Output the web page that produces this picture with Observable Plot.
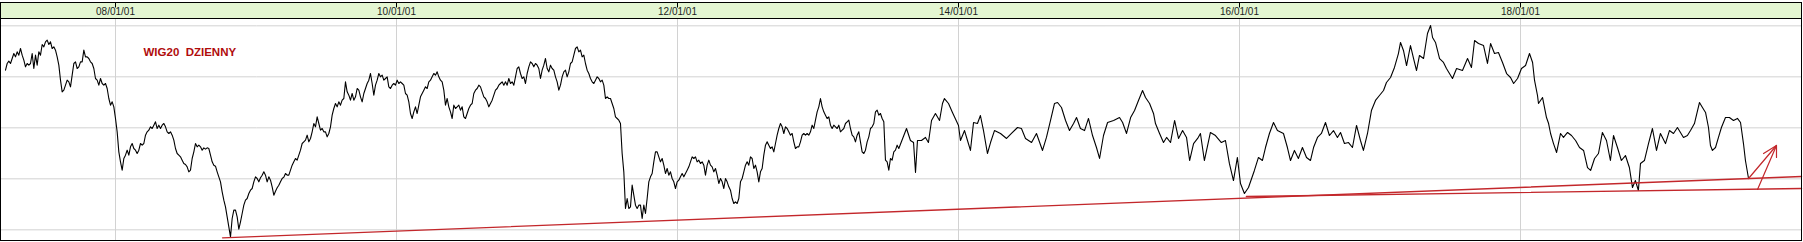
<!DOCTYPE html>
<html><head><meta charset="utf-8">
<script src="https://cdn.jsdelivr.net/npm/d3@7"></script>
<script src="https://cdn.jsdelivr.net/npm/@observablehq/plot@0.6"></script>
<style>body{margin:0;background:#fff}</style>
</head><body><div id="chart"></div>
<script>
const title = "WIG20\u00a0 DZIENNY";
const tickYears = [2008, 2010, 2012, 2014, 2016, 2018];
const tickLabels = ["08/01/01", "10/01/01", "12/01/01", "14/01/01", "16/01/01", "18/01/01"];
const gridValues = [2956, 2650, 2344, 2038, 1732];

// regular samples (about every 4.3 days)
const firstSampleYear = 2007.2171;
const sampleStepYears = 0.011862;
const wig20 = [
2690,2730,2744,2730,2760,2790,2770,2800,2780,2820,
2780,2750,2710,2730,2720,2730,2790,2700,2780,2720,
2800,2780,2844,2830,2860,2870,2844,2860,2820,2830,
2810,2770,2720,2630,2560,2570,2600,2630,2620,2590,
2660,2730,2740,2700,2710,2740,2740,2810,2770,2770,
2760,2740,2730,2700,2640,2630,2600,2640,2610,2600,
2610,2580,2520,2480,2500,2470,2400,2320,2200,2140,
2090,2160,2180,2210,2180,2230,2250,2220,2210,2190,
2210,2250,2240,2250,2300,2320,2330,2350,2340,2360,
2380,2340,2360,2340,2360,2370,2350,2320,2310,2320,
2300,2270,2220,2190,2180,2170,2150,2130,2124,2110,
2080,2090,2160,2200,2250,2230,2240,2230,2210,2224,
2216,2224,2220,2180,2140,2120,2114,2080,2050,2020,
1960,1910,1870,1810,1750,1690,1800,1850,1850,1810,
1736,1780,1830,1880,1910,1920,1950,1970,1980,2020,
2050,2040,2020,2044,2060,2080,2060,2020,2050,2030,
1990,1940,1964,1984,2000,2020,2040,2048,2070,2060,
2060,2090,2120,2140,2160,2150,2180,
2210,2250,2260,2270,2300,2260,2280,2320,2370,2350,
2410,2370,2330,2340,2320,2320,2290,2310,2350,2420,
2460,2490,2470,2500,2480,2510,2520,2620,2560,2540,
2510,2550,2510,2530,2580,2570,2530,2500,2550,2580,
2610,2630,2670,2610,2540,2600,2630,2670,2650,2660,
2630,2640,2650,2590,2580,2600,2610,2600,2630,2610,
2620,2610,2600,2550,2540,2500,2430,2400,2440,2470,
2430,2480,2530,2550,2570,2590,2580,2620,2630,2650,
2670,2660,2680,2650,2630,2620,2570,2480,2520,2470,
2440,2400,2480,2460,2470,2480,2450,2470,2410,2400,
2430,2460,2480,2490,2550,2570,2580,2600,2590,2560,
2530,2520,2500,2470,2490,2510,2540,2570,2580,2600,
2610,2620,2600,2620,2600,2640,2610,2620,2600,2650,
2700,2710,2670,2640,2650,2610,2670,2710,2740,2730,
2710,2730,2720,2700,2640,2690,2720,2760,2700,2680,
2720,2700,2690,2650,2620,2570,2600,2650,2680,2690,
2650,2680,2730,2740,2780,2820,2830,2800,2810,2770,
2780,2730,2690,2670,2640,2620,2610,2630,2650,2640,
2620,2630,2600,2520,2530,2520,2520,2490,2460,2410,
2400,2390,2370,2190,2080,1860,1920,1860,1870,2000,
1940,1880,1860,1880,1880,1800,1880,1830,1920,2020,
2050,2070,2140,2200,2200,2170,2140,2160,2120,2070,
2100,2060,2080,2040,2020,1980,2020,2030,2050,2070,
2050,2070,2090,2110,2140,2170,2160,2170,2140,2150,
2130,2140,2120,2060,2120,2150,2120,2110,2080,2100,
2060,2010,2040,2020,1980,2040,2020,1990,1970,1920,
1890,1900,1890,1920,2020,2040,2080,2120,2140,2120,
2170,2160,2100,2120,2080,2020,2080,2100,2180,2240,
2260,2240,2220,2230,2200,2250,2300,2340,2370,2350,
2310,2350,2340,2320,2300,2310,2260,2220,2230,2230,
2260,2300,2310,2300,2310,2300,2320,2360,2340,2390,
2440,2470,2520,2470,2440,2420,2400,2410,2360,2340,
2360,2350,2340,2360,2320,2330,2340,2370,2380,2390,
2340,2300,2290,2260,2300,2320,2260,2200,2190,2210,
2260,2290,2340,2350,2370,2440,2450,2420,2430,2400,
2380,2150,2140,2090,2160,2150,2200,2210,2240,2220
];

// later part, still coarse: [decimal year, level]
const wig20Late = [
[2013.630,1992],[2013.658,1898],[2013.680,1882],[2013.694,1647],[2013.708,1898],[2013.736,1898],[2013.765,1922],[2013.786,1882],
[2013.808,2055],[2013.836,2110],[2013.865,2055],[2013.886,2188],[2013.900,2227],[2013.929,2188],[2013.957,2118],[2014.000,2016],
[2014.014,1898],[2014.043,1976],[2014.064,1898],[2014.085,1820],[2014.107,2039],[2014.135,2031],[2014.156,2094],[2014.178,1976],
[2014.206,1796],[2014.228,1882],[2014.256,1976],[2014.299,1953],[2014.342,1914],[2014.377,1953],[2014.420,2000],[2014.448,1992],
[2014.477,1914],[2014.520,1882],[2014.555,1953],[2014.598,1820],[2014.626,1922],[2014.655,2055],[2014.683,2188],[2014.705,2196],
[2014.733,2157],[2014.762,2055],[2014.790,1976],[2014.819,2031],[2014.840,2078],[2014.868,1992],[2014.897,1976],[2014.925,2071],
[2014.954,1937],[2014.982,1843],[2015.004,1757],[2015.032,1937],[2015.061,2039],[2015.104,2055],[2015.146,2078],[2015.168,2039],
[2015.196,1953],[2015.225,2078],[2015.253,2133],[2015.281,2212],[2015.310,2290],[2015.331,2235],[2015.360,2188],[2015.388,2110],
[2015.402,2031],[2015.431,1953],[2015.459,1882],[2015.481,1922],[2015.509,1882],[2015.538,2055],[2015.566,1914],[2015.595,1976],
[2015.623,1922],[2015.645,1741],[2015.673,1874],[2015.702,1914],
[2015.722,1953],[2015.750,1741],[2015.793,1961],[2015.829,1937],[2015.871,1882],[2015.900,1898],[2015.928,1718],[2015.957,1584],
[2015.985,1765],[2016.007,1561],[2016.035,1482],[2016.064,1529],[2016.106,1663],[2016.135,1765],[2016.163,1741],[2016.185,1843],
[2016.213,1953],[2016.242,2039],[2016.270,1976],[2016.313,1953],[2016.341,1843],[2016.363,1741],[2016.391,1820],[2016.419,1757],
[2016.448,1843],[2016.477,1765],[2016.505,1741],[2016.527,1843],[2016.555,1922],[2016.583,1953],[2016.612,2039],[2016.640,1937],
[2016.669,1976],[2016.697,1922],[2016.719,1961],[2016.747,1874],[2016.776,1882],[2016.804,1843],[2016.833,2016],[2016.861,1898],
[2016.882,1820],[2016.911,1953],[2016.939,2133],[2016.968,2212],[2016.996,2251],[2017.025,2290],[2017.046,2353],[2017.075,2392],
[2017.103,2471],[2017.131,2580],[2017.146,2667],[2017.167,2604],[2017.189,2486],[2017.217,2643],[2017.239,2541],[2017.260,2447],
[2017.281,2565],[2017.310,2541],[2017.338,2737],[2017.360,2800],[2017.374,2706],[2017.395,2667],[2017.424,2541],[2017.452,2510],
[2017.473,2463],[2017.516,2384],[2017.545,2463],[2017.587,2447],[2017.623,2541],[2017.651,2471],[2017.673,2682],[2017.701,2659],
[2017.737,2643],[2017.765,2502],[2017.787,2659],[2017.815,2580],[2017.843,2588],[2017.872,2510],[2017.901,2423],[2017.929,2392],
[2017.951,2345],[2017.979,2384],[2018.007,2463],[2018.036,2486],[2018.064,2580],[2018.086,2510],[2018.100,2369],[2018.121,2251],
[2018.128,2188],[2018.157,2235],[2018.185,2078],[2018.200,2031],[2018.214,1953],[2018.235,1874],[2018.257,1804],[2018.285,1953],
[2018.306,1922],[2018.335,1961],[2018.363,1937],[2018.392,1898],[2018.420,1843],[2018.449,1820],[2018.477,1686],[2018.499,1663],
[2018.527,1757],[2018.555,1796],[2018.583,1961],[2018.612,1898],[2018.640,1741],[2018.662,1937],[2018.690,1843],[2018.718,1741],
[2018.747,1780],[2018.775,1686],[2018.797,1529],[2018.818,1584],[2018.839,1506],[2018.854,1718],[2018.882,1741],[2018.911,1874],
[2018.939,1992],[2018.968,1820],[2018.996,1953],[2019.032,1874],[2019.060,1976],[2019.089,1953],[2019.117,2000],[2019.160,1922],
[2019.188,1937],[2019.210,1976],[2019.238,2031],[2019.260,2133],[2019.274,2196],[2019.295,2157],[2019.317,2118],[2019.338,2000],
[2019.352,1859],[2019.366,1820],[2019.388,1843],[2019.409,1922],[2019.430,2000],[2019.459,2078],[2019.487,2078],[2019.516,2055],
[2019.544,2071],[2019.566,2039],[2019.587,1874],[2019.601,1741],[2019.623,1600]
];

// hand-drawn support lines and arrow
const supportLong = [[2008.762, 1684], [2020.0, 2052]];
const supportShort = [[2016.049, 1932], [2020.0, 1980]];
const arrowShaftA = [[2019.623, 2040], [2019.822, 2238]];
const arrowShaftB = [[2019.687, 1974], [2019.822, 2238]];
const arrowHead = [[2019.730, 2190], [2019.822, 2238], [2019.822, 2166]];

const series = wig20.map((v, i) => [firstSampleYear + i * sampleStepYears, v])
  .concat(wig20Late.map(([t, v]) => [t, 3108 - 6 * (2996 - v) / 7.843]));

const red = "#c3272b";
const grid = "#d2d2d2";
const fx = d => d[0], fy = d => d[1];

const chart = Plot.plot({
  width: 1803, height: 242,
  marginLeft: 0, marginRight: 2, marginTop: 18, marginBottom: 2,
  x: {domain: [2007.1815, 2020.0], axis: null},
  y: {domain: [1668, 3000], axis: null},
  style: {background: "transparent", fontFamily: "'Liberation Sans', Arial, sans-serif", overflow: "visible"},
  marks: [
    Plot.gridX(tickYears, {stroke: grid, strokeOpacity: 1}),
    Plot.gridY(gridValues, {stroke: grid, strokeOpacity: 1}),
    Plot.line(series, {x: fx, y: fy, stroke: "#000", strokeWidth: 1.1}),
    Plot.line(supportLong, {x: fx, y: fy, stroke: red, strokeWidth: 1.4}),
    Plot.line(supportShort, {x: fx, y: fy, stroke: red, strokeWidth: 1.4}),
    Plot.line(arrowShaftA, {x: fx, y: fy, stroke: red, strokeWidth: 1.2}),
    Plot.line(arrowShaftB, {x: fx, y: fy, stroke: red, strokeWidth: 1.2}),
    Plot.line(arrowHead, {x: fx, y: fy, stroke: red, strokeWidth: 1.2}),
    Plot.text([title], {frameAnchor: "top-left", dx: 143, dy: 29.5, text: d => d, textAnchor: "start",
      fill: "#b00c0c", fontWeight: "bold", fontSize: 11.5}),
    Plot.frame({stroke: "#000", strokeOpacity: 1}),
    Plot.axisX(tickYears, {anchor: "top", tickSize: 0, tickPadding: 3.5, fontSize: 10, fill: "#222",
      tickFormat: d => tickLabels[tickYears.indexOf(d)]})
  ]
});

const svg = d3.select(chart);
const sx = chart.scale("x");
const header = svg.insert("g", ":first-child");
header.append("rect").attr("x", 0.5).attr("y", 2.5).attr("width", 1801).attr("height", 16)
  .attr("fill", "#e4f6d2").attr("stroke", "#000");
tickYears.forEach(t => {
  const x = Math.round(sx.apply(t)) + 0.5;
  header.append("line").attr("x1", x).attr("x2", x).attr("y1", 2.5).attr("y2", 7.5).attr("stroke", "#000");
});
document.getElementById("chart").appendChild(chart);
</script>
</body></html>
